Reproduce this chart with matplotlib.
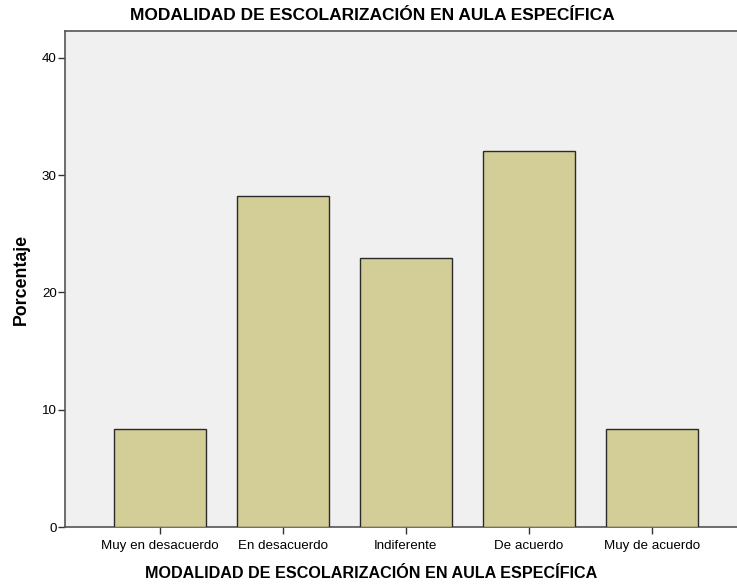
import matplotlib.pyplot as plt

plt.rcParams['font.family'] = ['Liberation Sans', 'DejaVu Sans']

categories = ["Muy en desacuerdo", "En desacuerdo", "Indiferente", "De acuerdo", "Muy de acuerdo"]
porcentajes = [8.40, 28.24, 22.90, 32.06, 8.40]
yticks = [0, 10, 20, 30, 40]

fig = plt.figure(figsize=(7.37, 5.85), dpi=100)
ax = fig.add_axes([0.0882, 0.0991, 0.9118, 0.848])
ax.set_facecolor("#f0f0f0")

x = range(len(categories))
ax.bar(x, porcentajes, width=0.75, color="#d3ce97", edgecolor="#2a2a2a", linewidth=1.0, zorder=3)

ax.set_xlim(-0.77, 4.69)
ax.set_ylim(0, 42.3)
ax.set_yticks(yticks)
ax.set_xticks(list(x))
ax.set_xticklabels(categories, fontsize=9.6)
ax.tick_params(axis="y", labelsize=9.6, length=5, width=1, color="#333333", pad=1)
ax.tick_params(axis="x", length=5, width=1, color="#333333", pad=4)

for side in ["left", "top", "bottom"]:
    ax.spines[side].set_color("#555555")
    ax.spines[side].set_linewidth(1.2)
ax.spines["right"].set_visible(False)

ax.set_ylabel("Porcentaje", fontsize=12.8, fontweight="bold")
ax.yaxis.set_label_coords(-0.053, 0.5)
ax.set_xlabel("MODALIDAD DE ESCOLARIZACIÓN EN AULA ESPECÍFICA", fontsize=11.6, fontweight="bold")
ax.xaxis.set_label_coords(0.455, -0.078)
fig.text(0.505, 0.974, "MODALIDAD DE ESCOLARIZACIÓN EN AULA ESPECÍFICA",
         ha="center", va="center", fontsize=12.5, fontweight="bold")

fig.savefig("out.png", dpi=100)
